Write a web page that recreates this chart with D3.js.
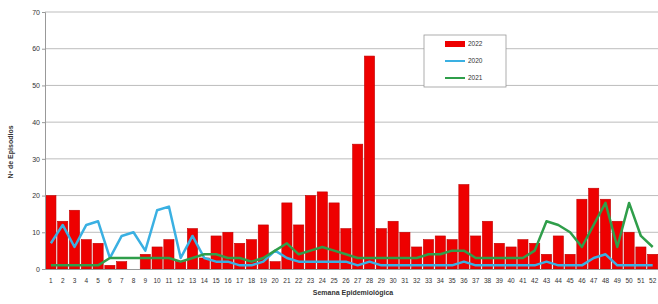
<!DOCTYPE html>
<html>
<head>
<meta charset="utf-8">
<script src="https://cdn.jsdelivr.net/npm/d3@7"></script>
<style>
  body { margin: 0; background: #fff; }
  svg { display: block; font-family: "Liberation Sans", Arial, sans-serif; }
</style>
</head>
<body>
<svg id="chart" width="658" height="304"></svg>
<script>
// semanas epidemiologicas
const weeks = d3.range(1, 53)
const yTicks = [0, 10, 20, 30, 40, 50, 60, 70]

// 2022 - barras
const cases2022 = [20, 13, 16, 8, 7, 1, 2, 0, 4, 6, 8, 2, 11, 3, 9, 10, 7, 8, 12, 2,
  18, 12, 20, 21, 18, 11, 34, 58, 11, 13, 10, 6, 8, 9, 8, 23, 9, 13, 7, 6,
  8, 7, 4, 9, 4, 19, 22, 19, 13, 10, 6, 4]
// 2020 - linea azul
const cases2020 = [7, 12, 6, 12, 13, 3, 9, 10, 5, 16, 17, 3, 9, 3, 2, 2, 1, 1, 2, 5,
  3, 2, 2, 2, 2, 2, 1, 2, 1, 1, 1, 1, 1, 1, 1, 2, 1, 1, 1, 1,
  1, 1, 2, 1, 1, 1, 3, 4, 1, 1, 1, 1]
// 2021 - linea verde
const cases2021 = [1, 1, 1, 1, 1, 3, 3, 3, 3, 3, 3, 2, 3, 4, 4, 3, 3, 2, 3, 5,
  7, 4, 5, 6, 5, 4, 3, 3, 3, 3, 3, 3, 4, 4, 5, 5, 3, 3, 3, 3,
  3, 5, 13, 12, 10, 6, 12, 18, 6, 18, 9, 6]

const legendItems = [
  { label: '2022', color: '#ee0000', type: 'bar' },
  { label: '2020', color: '#3ab0e2', type: 'line' },
  { label: '2021', color: '#2f9e4a', type: 'line' }
]

const svg = d3.select('#chart')
const margin = { left: 45, top: 12, right: 0, bottom: 35 }
const width = 658, height = 304

const x = d3.scaleBand().domain(weeks).range([margin.left, margin.left + 52 * 11.8]).paddingInner(0.14).paddingOuter(0.07)
const y = d3.scaleLinear().domain([0, 70]).range([height - margin.bottom, margin.top])

// grid
svg.append('g')
  .selectAll('line')
  .data(yTicks.slice(1))
  .join('line')
  .attr('x1', margin.left).attr('x2', width)
  .attr('y1', d => y(d)).attr('y2', d => y(d))
  .attr('stroke', '#bdbdbd')
  .attr('stroke-width', 1)

// bars
svg.append('g')
  .selectAll('rect')
  .data(cases2022)
  .join('rect')
  .attr('x', (d, i) => x(weeks[i]))
  .attr('y', d => y(d))
  .attr('width', x.bandwidth())
  .attr('height', d => y(0) - y(d))
  .attr('fill', '#ee0000')
  .attr('stroke', '#c00000')
  .attr('stroke-width', 0.6)

// lines
const line = d3.line()
  .x((d, i) => x(weeks[i]) + x.bandwidth() / 2)
  .y(d => y(d))

svg.append('path')
  .datum(cases2020)
  .attr('d', line)
  .attr('fill', 'none')
  .attr('stroke', '#3ab0e2')
  .attr('stroke-width', 2.5)
  .attr('stroke-linejoin', 'round')

svg.append('path')
  .datum(cases2021)
  .attr('d', line)
  .attr('fill', 'none')
  .attr('stroke', '#2f9e4a')
  .attr('stroke-width', 2.5)
  .attr('stroke-linejoin', 'round')

// axes
const yAxis = svg.append('g')
  .attr('transform', `translate(${margin.left},0)`)
  .call(d3.axisLeft(y).tickValues(yTicks).tickSize(3).tickPadding(2))
yAxis.select('.domain').attr('stroke', '#999')
yAxis.selectAll('.tick line').attr('stroke', '#999')
yAxis.selectAll('text').attr('font-size', 7).attr('fill', '#333')

const xAxis = svg.append('g')
  .attr('transform', `translate(0,${y(0)})`)
  .call(d3.axisBottom(x).tickSize(0).tickPadding(9))
xAxis.select('.domain').attr('stroke', '#999')
xAxis.selectAll('text').attr('font-size', 6.5).attr('fill', '#333')

// titles
svg.append('text')
  .attr('transform', 'translate(13,152) rotate(-90)')
  .attr('text-anchor', 'middle')
  .attr('font-size', 7)
  .attr('font-weight', 'bold')
  .attr('fill', '#333')
  .text('Nº de Episodios')

svg.append('text')
  .attr('x', 353).attr('y', 295)
  .attr('text-anchor', 'middle')
  .attr('font-size', 7)
  .attr('font-weight', 'bold')
  .attr('fill', '#333')
  .text('Semana Epidemiológica')

// legend
const legend = svg.append('g').attr('transform', 'translate(424,35)')
legend.append('rect')
  .attr('width', 82).attr('height', 52)
  .attr('fill', '#fff')
  .attr('stroke', '#999')
  .attr('stroke-width', 0.8)

const item = legend.selectAll('g.item')
  .data(legendItems)
  .join('g')
  .attr('class', 'item')
  .attr('transform', (d, i) => `translate(21,${9 + i * 17})`)

item.filter(d => d.type === 'bar').append('rect')
  .attr('x', 0).attr('y', -3).attr('width', 20).attr('height', 6)
  .attr('fill', d => d.color)
item.filter(d => d.type === 'line').append('line')
  .attr('x1', 0).attr('x2', 20)
  .attr('stroke', d => d.color).attr('stroke-width', 2)
item.append('text')
  .attr('x', 23).attr('dy', '0.35em')
  .attr('font-size', 6.5)
  .attr('fill', '#333')
  .text(d => d.label)
</script>
</body>
</html>
